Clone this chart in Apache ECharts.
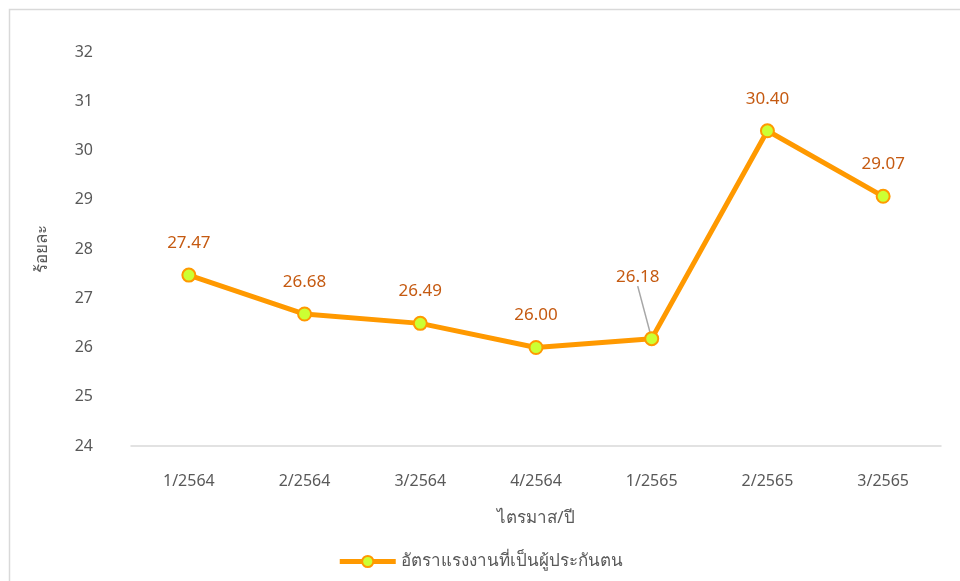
<!DOCTYPE html>
<html>
<head>
<meta charset="utf-8">
<script src="https://cdn.jsdelivr.net/npm/echarts@6/dist/echarts.min.js"></script>
<style>
html, body { margin: 0; padding: 0; background: #fff; }
#chart { width: 960px; height: 581px; }
</style>
</head>
<body>
<div id="chart"></div>
<script>
// ข้อมูล
var quarters = ['1/2564', '2/2564', '3/2564', '4/2564', '1/2565', '2/2565', '3/2565'];
var insuredRate = [27.47, 26.68, 26.49, 26.00, 26.18, 30.40, 29.07];
var seriesName = 'อัตราแรงงานที่เป็นผู้ประกันตน';
var yName = 'ร้อยละ';
var xName = 'ไตรมาส/ปี';

var fontFam = '"Noto Sans", "DejaVu Sans", sans-serif';

// จุด 1/2565 มีเส้นนำป้าย
var seriesData = insuredRate.map(function (v, i) {
    if (i === 4) {
        return { value: v, labelLine: { show: true } };
    }
    return { value: v, labelLine: { show: false } };
});

var chart = echarts.init(document.getElementById('chart'));
var option = {
    animation: false,
    graphic: [{
        type: 'rect',
        shape: { x: 9.5, y: 9.5, width: 1000, height: 1000 },
        style: { fill: 'none', stroke: '#d9d9d9', lineWidth: 1.5 },
        silent: true
    }],
    grid: { left: 131, right: 19, top: 52, bottom: 135 },
    legend: {
        bottom: 6,
        left: 'center',
        itemWidth: 56,
        itemHeight: 14,
        itemGap: 4,
        lineStyle: { width: 5 },
        textStyle: { color: '#595959', fontSize: 17, fontFamily: fontFam },
        data: [seriesName]
    },
    xAxis: {
        type: 'category',
        data: quarters,
        name: xName,
        nameLocation: 'middle',
        nameGap: 64,
        nameTextStyle: { color: '#595959', fontSize: 17, fontFamily: fontFam },
        axisLine: { lineStyle: { color: '#d9d9d9', width: 1.5 } },
        axisTick: { show: false },
        axisLabel: { color: '#595959', fontSize: 16, margin: 27, fontFamily: fontFam }
    },
    yAxis: {
        type: 'value',
        min: 24,
        max: 32,
        interval: 1,
        name: yName,
        nameLocation: 'middle',
        nameGap: 80,
        nameRotate: 90,
        nameTextStyle: { color: '#595959', fontSize: 17, fontFamily: fontFam },
        axisLine: { show: false },
        axisTick: { show: false },
        splitLine: { show: false },
        axisLabel: { color: '#595959', fontSize: 16, margin: 38, fontFamily: fontFam }
    },
    series: [{
        name: seriesName,
        type: 'line',
        data: seriesData,
        symbol: 'circle',
        symbolSize: 13,
        lineStyle: { color: '#ff9900', width: 5 },
        itemStyle: { color: '#ccff33', borderColor: '#ff9900', borderWidth: 2 },
        label: {
            show: true,
            position: 'top',
            distance: 16,
            color: '#c55a11',
            fontSize: 17,
            fontFamily: fontFam,
            formatter: function (p) { return p.value.toFixed(2); }
        },
        labelLine: { lineStyle: { color: '#a6a6a6', width: 1.5 } },
        labelLayout: function (params) {
            if (params.dataIndex === 4) {
                return { dx: -14, dy: -29 };
            }
            return {};
        }
    }]
};
chart.setOption(option);
</script>
</body>
</html>
